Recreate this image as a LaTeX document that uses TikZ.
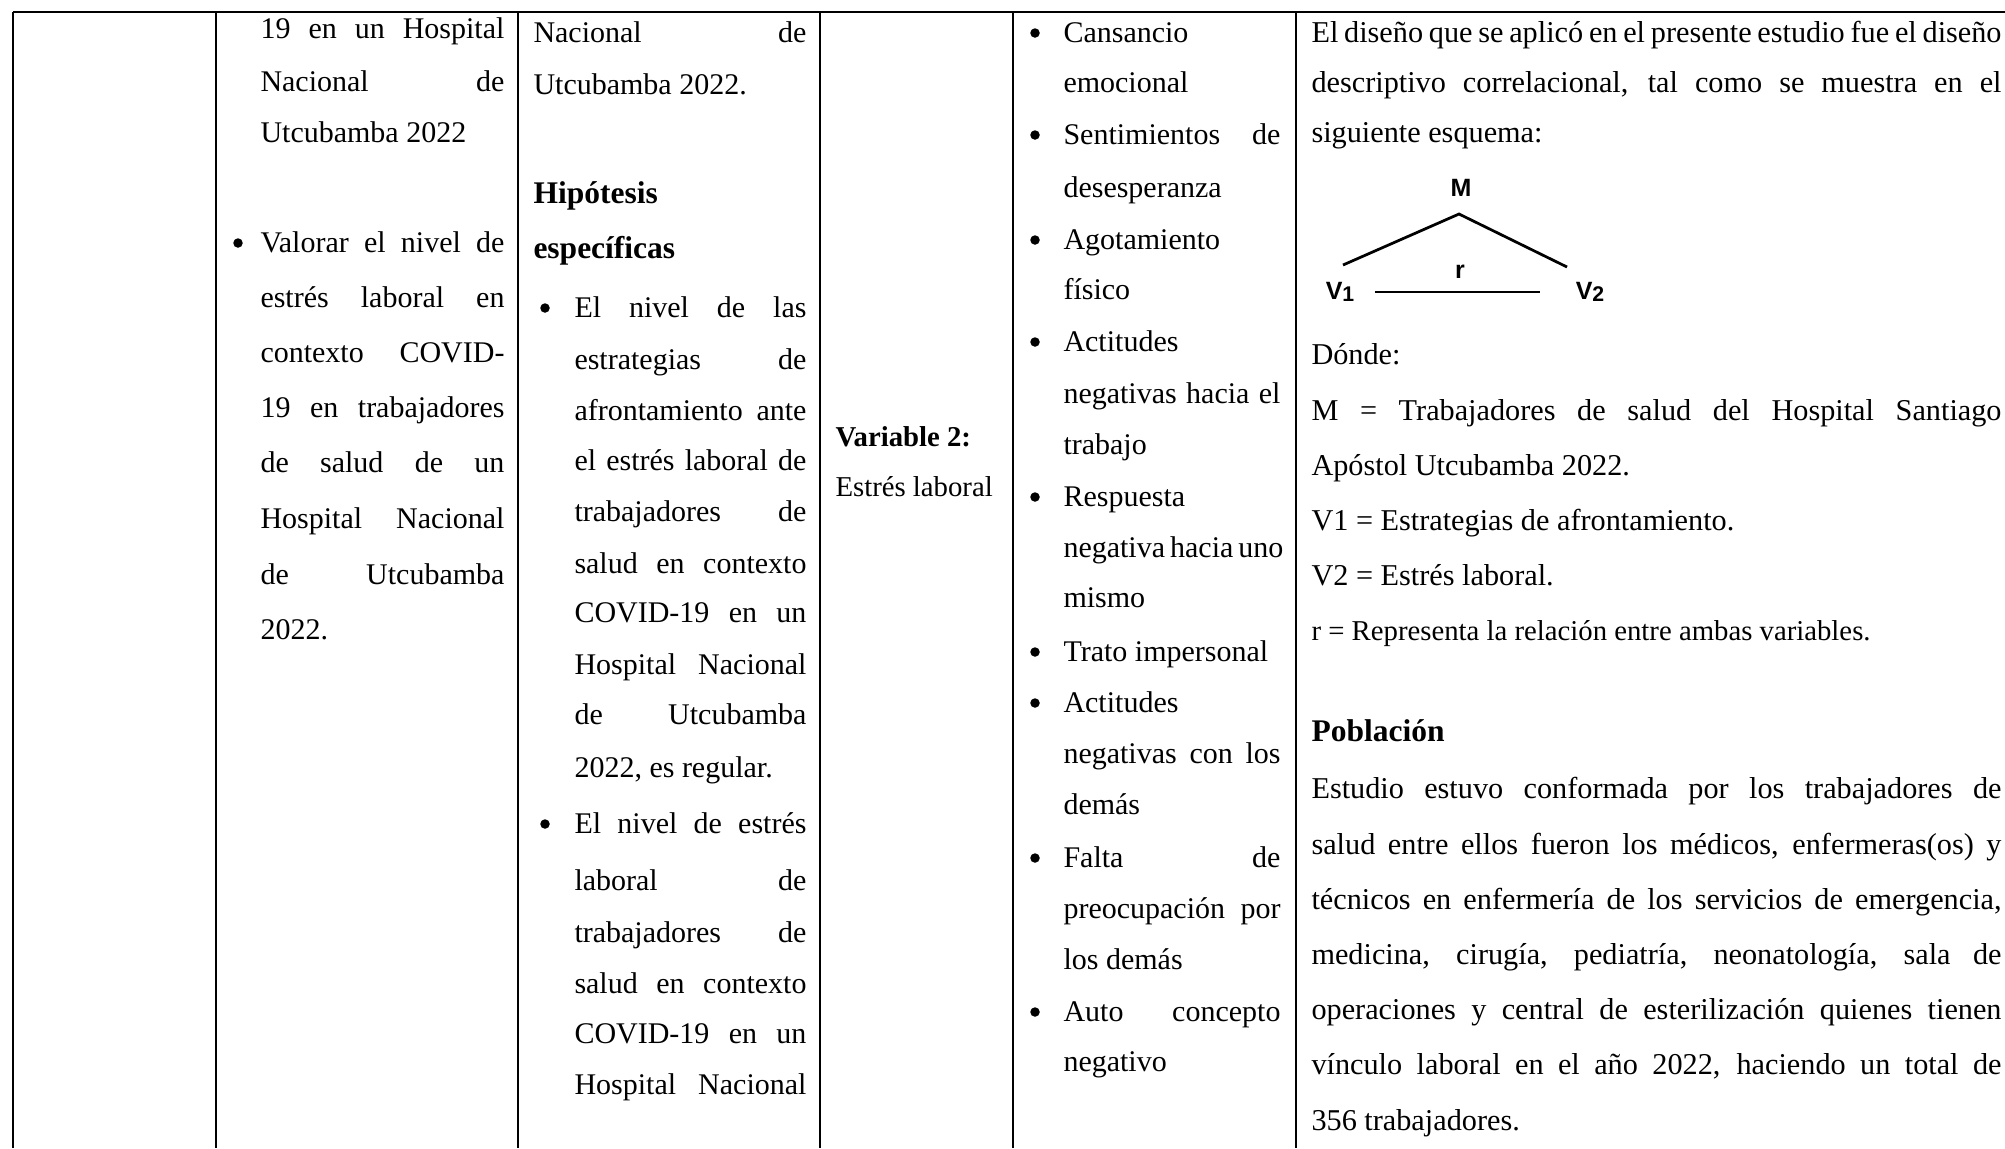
\documentclass[tikz,border=0pt]{standalone}
\usepackage{fontspec}
\setmainfont{Liberation Serif}
\newfontfamily\arialfont{Liberation Sans}
\newcommand\cellfont{\fontsize{12}{14}\selectfont}
\newcommand\widefont{\fontsize{12.1}{14}\selectfont}
\newcommand\smallfont{\fontsize{11.5}{14}\selectfont}
\newcommand\headfont{\fontsize{12.6}{14}\selectfont\bfseries}
\newcommand\idx[1]{{\fontsize{8.5}{9}\selectfont\raisebox{-0.5pt}{#1}}}

\tikzset{
  cell/.style={anchor=base west, inner sep=0pt, font=\cellfont},
  wide/.style={anchor=base west, inner sep=0pt, font=\widefont},
  dot/.style={circle, fill, inner sep=0pt, minimum size=3.8pt},
  rule/.style={line width=0.9pt},
  esq/.style={inner sep=0pt, font=\arialfont\bfseries\fontsize{10}{11}\selectfont},
}

\begin{document}
\begin{tikzpicture}[x=0.4pt,y=-0.4pt]
  \useasboundingbox (0,0) rectangle (2005,1148);

  % table rules
  \draw[rule] (13,12) -- (2005,12);
  \foreach \xx in {13,216,518,820,1013,1296}
    \draw[rule] (\xx,12) -- (\xx,1148);

  % column 2
  \foreach \yy/\txt [count=\i] in {38/19 en un Hospital, 91/Nacional de,
      252/Valorar el nivel de, 307/estrés laboral en, 362/contexto COVID-,
      417/19 en trabajadores, 472/de salud de un, 528/Hospital Nacional,
      584/de Utcubamba}
    \node[cell] (obj\i) at (260,\yy) {\makebox[97.6pt][s]{\txt}};
  \node[cell] (objend) at (260,142) {Utcubamba 2022};
  \node[cell] (objyear) at (260,639) {2022.};
  \node[dot] (objdot) at (238,243) {};

  % column 3
  \node[cell] (hyp0) at (533,42) {\makebox[109.2pt][s]{Nacional de}};
  \node[cell] (hypend) at (533,94) {Utcubamba 2022.};
  \node[cell, font=\headfont] (hyptitle) at (533,203) {Hipótesis};
  \node[cell, font=\headfont] (hypsub) at (533,258) {específicas};
  \foreach \yy/\txt [count=\i] in {317/El nivel de las, 369/estrategias de,
      420/afrontamiento ante, 470/el estrés laboral de, 521/trabajadores de,
      573/salud en contexto, 622/COVID-19 en un, 674/Hospital Nacional,
      724/de Utcubamba, 833/El nivel de estrés, 890/laboral de,
      942/trabajadores de, 993/salud en contexto, 1043/COVID-19 en un,
      1094/Hospital Nacional}
    \node[cell] (hyp\i) at (574,\yy) {\makebox[92.8pt][s]{\txt}};
  \node[cell] (hypreg) at (574,777) {2022, es regular.};
  \foreach \yy [count=\i] in {317,833}
    \node[dot] (hypdot\i) at (545,\yy-9) {};

  % column 4
  \node[cell, font=\smallfont\bfseries] (var) at (835,446) {Variable 2:};
  \node[cell, font=\smallfont] (varname) at (835,496) {Estrés laboral};

  % column 5
  \foreach \yy/\txt [count=\i] in {144/Sentimientos de, 403/negativas hacia el,
      557/negativa hacia uno, 763/negativas con los, 867/Falta de,
      918/preocupación por, 1021/Auto concepto}
    \node[cell] (dim\i) at (1063,\yy) {\makebox[86.8pt][s]{\txt}};
  \foreach \yy/\txt [count=\i] in {42/Cansancio, 92/emocional, 197/desesperanza,
      249/Agotamiento, 299/físico, 351/Actitudes, 454/trabajo, 506/Respuesta,
      607/mismo, 661/Trato impersonal, 712/Actitudes, 814/demás,
      969/los demás, 1071/negativo}
    \node[cell] (dimend\i) at (1063,\yy) {\txt};
  \foreach \yy [count=\i] in {42,144,249,351,506,661,712,867,1021}
    \node[dot] (dimdot\i) at (1035,\yy-9) {};

  % column 6
  \foreach \yy/\txt [count=\i] in {
      42/{El diseño que se aplicó en el presente estudio fue el diseño},
      92/{descriptivo correlacional, tal como se muestra en el},
      420/{M = Trabajadores de salud del Hospital Santiago},
      798/{Estudio estuvo conformada por los trabajadores de},
      854/{salud entre ellos fueron los médicos, enfermeras(os) y},
      909/{técnicos en enfermería de los servicios de emergencia,},
      964/{medicina, cirugía, pediatría, neonatología, sala de},
      1019/{operaciones y central de esterilización quienes tienen},
      1074/{vínculo laboral en el año 2022, haciendo un total de}}
    \node[wide] (met\i) at (1311,\yy) {\makebox[276pt][s]{\txt}};
  \foreach \yy/\txt [count=\i] in {142/siguiente esquema:, 364/Dónde:,
      475/Apóstol Utcubamba 2022., 530/V1 = Estrategias de afrontamiento.,
      585/V2 = Estrés laboral., 1130/356 trabajadores.}
    \node[wide] (metend\i) at (1311,\yy) {\txt};
  \node[cell, font=\smallfont] (metr) at (1311,640)
    {r = Representa la relación entre ambas variables.};
  \node[wide, font=\headfont] (pob) at (1311,741) {Población};

  % esquema
  \node[esq] (M) at (1461,188) {M};
  \node[esq] (V1) at (1340,292) {V\idx{1}};
  \node[esq] (V2) at (1590,292) {V\idx{2}};
  \node[esq] (r) at (1460,272) {r};
  \coordinate (apex) at (1459,214);
  \coordinate (lend) at (1343,265);
  \coordinate (rend) at (1567,267);
  \draw[line width=1.1pt] (lend) -- (apex) -- (rend);
  \draw[line width=1.1pt, shorten <=8pt, shorten >=14pt] (V1) -- (V2);
\end{tikzpicture}
\end{document}
